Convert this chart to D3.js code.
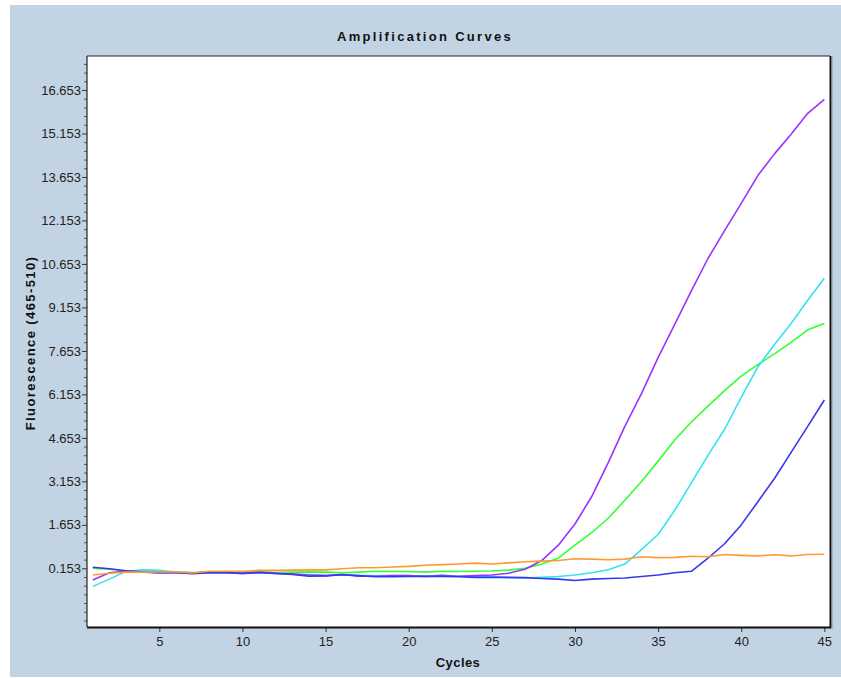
<!DOCTYPE html>
<html>
<head>
<meta charset="utf-8">
<script src="https://cdn.jsdelivr.net/npm/d3@7"></script>
<style>
  html, body { margin: 0; padding: 0; background: #ffffff; }
  svg { display: block; }
  text { font-family: "Liberation Sans", Arial, sans-serif; }
</style>
</head>
<body>
<svg id="chart" width="841" height="678"></svg>
<script>
// ---- data ----
const cycles = [1,2,3,4,5,6,7,8,9,10,11,12,13,14,15,16,17,18,19,20,21,22,23,24,25,26,27,28,29,30,31,32,33,34,35,36,37,38,39,40,41,42,43,44,45];

const purple = [-0.25,0.00,0.06,0.03,0.00,0.00,-0.01,0.02,0.01,-0.03,0.02,-0.03,-0.04,-0.08,-0.10,-0.06,-0.12,-0.12,-0.10,-0.10,-0.13,-0.10,-0.12,-0.10,-0.08,-0.02,0.12,0.42,0.95,1.68,2.62,3.80,5.05,6.18,7.42,8.57,9.72,10.84,11.80,12.74,13.70,14.45,15.13,15.85,16.33];
const green  = [0.16,0.12,0.06,0.03,0.02,0.02,0.01,0.02,0.04,0.02,0.04,0.01,0.02,0.03,0.02,0.00,0.02,0.05,0.04,0.04,0.02,0.05,0.04,0.05,0.06,0.09,0.15,0.30,0.50,0.95,1.38,1.88,2.50,3.15,3.85,4.58,5.20,5.75,6.28,6.78,7.18,7.55,7.95,8.38,8.60];
const cyan   = [-0.47,-0.22,0.05,0.10,0.08,0.02,0.00,-0.01,0.00,-0.02,0.00,-0.02,-0.05,-0.06,-0.10,-0.05,-0.10,-0.10,-0.10,-0.10,-0.12,-0.08,-0.12,-0.12,-0.13,-0.17,-0.18,-0.16,-0.13,-0.08,0.00,0.10,0.30,0.80,1.32,2.15,3.10,4.05,4.95,6.05,7.10,7.87,8.60,9.40,10.16];
const blue   = [0.19,0.14,0.07,0.02,0.00,0.00,-0.03,0.00,0.00,-0.02,0.01,-0.02,-0.06,-0.12,-0.11,-0.07,-0.10,-0.14,-0.14,-0.13,-0.12,-0.13,-0.14,-0.16,-0.16,-0.16,-0.17,-0.20,-0.22,-0.27,-0.22,-0.20,-0.18,-0.13,-0.08,0.00,0.05,0.50,1.00,1.65,2.45,3.25,4.15,5.05,5.96];
const orange = [-0.08,-0.02,0.02,0.02,0.03,0.03,-0.01,0.05,0.05,0.05,0.08,0.08,0.09,0.10,0.10,0.14,0.17,0.17,0.20,0.22,0.26,0.28,0.30,0.33,0.30,0.34,0.38,0.40,0.42,0.48,0.47,0.45,0.47,0.55,0.52,0.53,0.57,0.55,0.63,0.60,0.58,0.62,0.58,0.63,0.64];

const seriesNames  = ["green", "cyan", "purple", "blue", "orange"];
const seriesValues = [green, cyan, purple, blue, orange];
const seriesColors = ["#33ff33", "#33e3f4", "#9b33ff", "#3636f0", "#ff9933"];

const xTicks = [5,10,15,20,25,30,35,40,45];
const yTickLabels = ["0.153","1.653","3.153","4.653","6.153","7.653","9.153","10.653","12.153","13.653","15.153","16.653"];
const yMinorStep = 0.3;

const titleText = "Amplification Curves";
const xLabel = "Cycles";
const yLabel = "Fluorescence (465-510)";

// ---- layout ----
const svg = d3.select("#chart");
const L = 87, R = 830, T = 56, B = 627;

svg.append("rect").attr("x", 0).attr("y", 0).attr("width", 841).attr("height", 678).attr("fill", "#ffffff");
svg.append("rect").attr("x", 10).attr("y", 5).attr("width", 831).attr("height", 672).attr("fill", "#c2d4e4");
svg.append("rect").attr("x", L).attr("y", T).attr("width", R - L).attr("height", B - T).attr("fill", "#ffffff");

const x = d3.scaleLinear().domain([0.65, 45.34]).range([L, R]);
const y = d3.scaleLinear().domain([-1.872, 17.826]).range([B, T]);

// minor y ticks
const yMajor = yTickLabels.map(Number);
const minorVals = [];
for (let v = yMajor[0] - 2 * 1.5; v <= 17.826; v += yMinorStep) {
  const r = Math.round(v * 1000) / 1000;
  if (r >= -1.872 && !yMajor.some(m => Math.abs(m - r) < 1e-6)) minorVals.push(r);
}
const yAxisMinor = d3.axisLeft(y).tickValues(minorVals).tickSize(3).tickFormat("");
svg.append("g").attr("transform", `translate(${L},0)`).call(yAxisMinor)
  .call(g => g.select(".domain").remove())
  .call(g => g.selectAll("line").attr("stroke", "#555"));

const yAxis = d3.axisLeft(y).tickValues(yMajor).tickSize(5).tickPadding(1)
  .tickFormat((d, i) => yTickLabels[i]);
svg.append("g").attr("transform", `translate(${L},0)`).call(yAxis)
  .call(g => g.select(".domain").remove())
  .call(g => g.selectAll("line").attr("stroke", "#333"))
  .call(g => g.selectAll("text").attr("font-size", 13).attr("fill", "#222")
    .attr("font-family", "'Liberation Sans', Arial, sans-serif"));

const xAxis = d3.axisBottom(x).tickValues(xTicks).tickSize(5).tickPadding(5);
svg.append("g").attr("transform", `translate(0,${B})`).call(xAxis)
  .call(g => g.select(".domain").remove())
  .call(g => g.selectAll("line").attr("stroke", "#333"))
  .call(g => g.selectAll("text").attr("font-size", 13).attr("fill", "#222")
    .attr("font-family", "'Liberation Sans', Arial, sans-serif"));

// curves
const clip = svg.append("clipPath").attr("id", "plotclip");
clip.append("rect").attr("x", L).attr("y", T).attr("width", R - L).attr("height", B - T);

const line = d3.line().x((d, i) => x(cycles[i])).y(d => y(d));
svg.append("g").attr("clip-path", "url(#plotclip)")
  .selectAll("path")
  .data(seriesValues)
  .join("path")
  .attr("class", (d, i) => "series " + seriesNames[i])
  .attr("d", d => line(d))
  .attr("fill", "none")
  .attr("stroke", (d, i) => seriesColors[i])
  .attr("stroke-width", 1.6)
  .attr("stroke-linejoin", "round");

// frame
svg.append("line").attr("x1", L).attr("y1", T).attr("x2", R).attr("y2", T).attr("stroke", "#222").attr("stroke-width", 1.2);
svg.append("line").attr("x1", L).attr("y1", T).attr("x2", L).attr("y2", B).attr("stroke", "#222").attr("stroke-width", 1.2);
svg.append("line").attr("x1", R + 0.5).attr("y1", T).attr("x2", R + 0.5).attr("y2", B + 1).attr("stroke", "#111").attr("stroke-width", 2);
svg.append("line").attr("x1", R + 2).attr("y1", T).attr("x2", R + 2).attr("y2", B + 2).attr("stroke", "#8a8f96").attr("stroke-width", 1);
svg.append("line").attr("x1", L).attr("y1", B + 0.5).attr("x2", R + 1).attr("y2", B + 0.5).attr("stroke", "#111").attr("stroke-width", 2);

// texts
svg.append("text").attr("x", 425).attr("y", 41).attr("text-anchor", "middle")
  .attr("font-size", 13).attr("font-weight", "bold").attr("letter-spacing", "2.3px")
  .attr("fill", "#111").text(titleText);

svg.append("text").attr("x", 458).attr("y", 667).attr("text-anchor", "middle")
  .attr("font-size", 13).attr("font-weight", "bold").attr("letter-spacing", "0.4px")
  .attr("fill", "#111").text(xLabel);

svg.append("text").attr("transform", "translate(35,343) rotate(-90)").attr("text-anchor", "middle")
  .attr("font-size", 13).attr("font-weight", "bold").attr("letter-spacing", "1.4px")
  .attr("fill", "#111").text(yLabel);
</script>
</body>
</html>
